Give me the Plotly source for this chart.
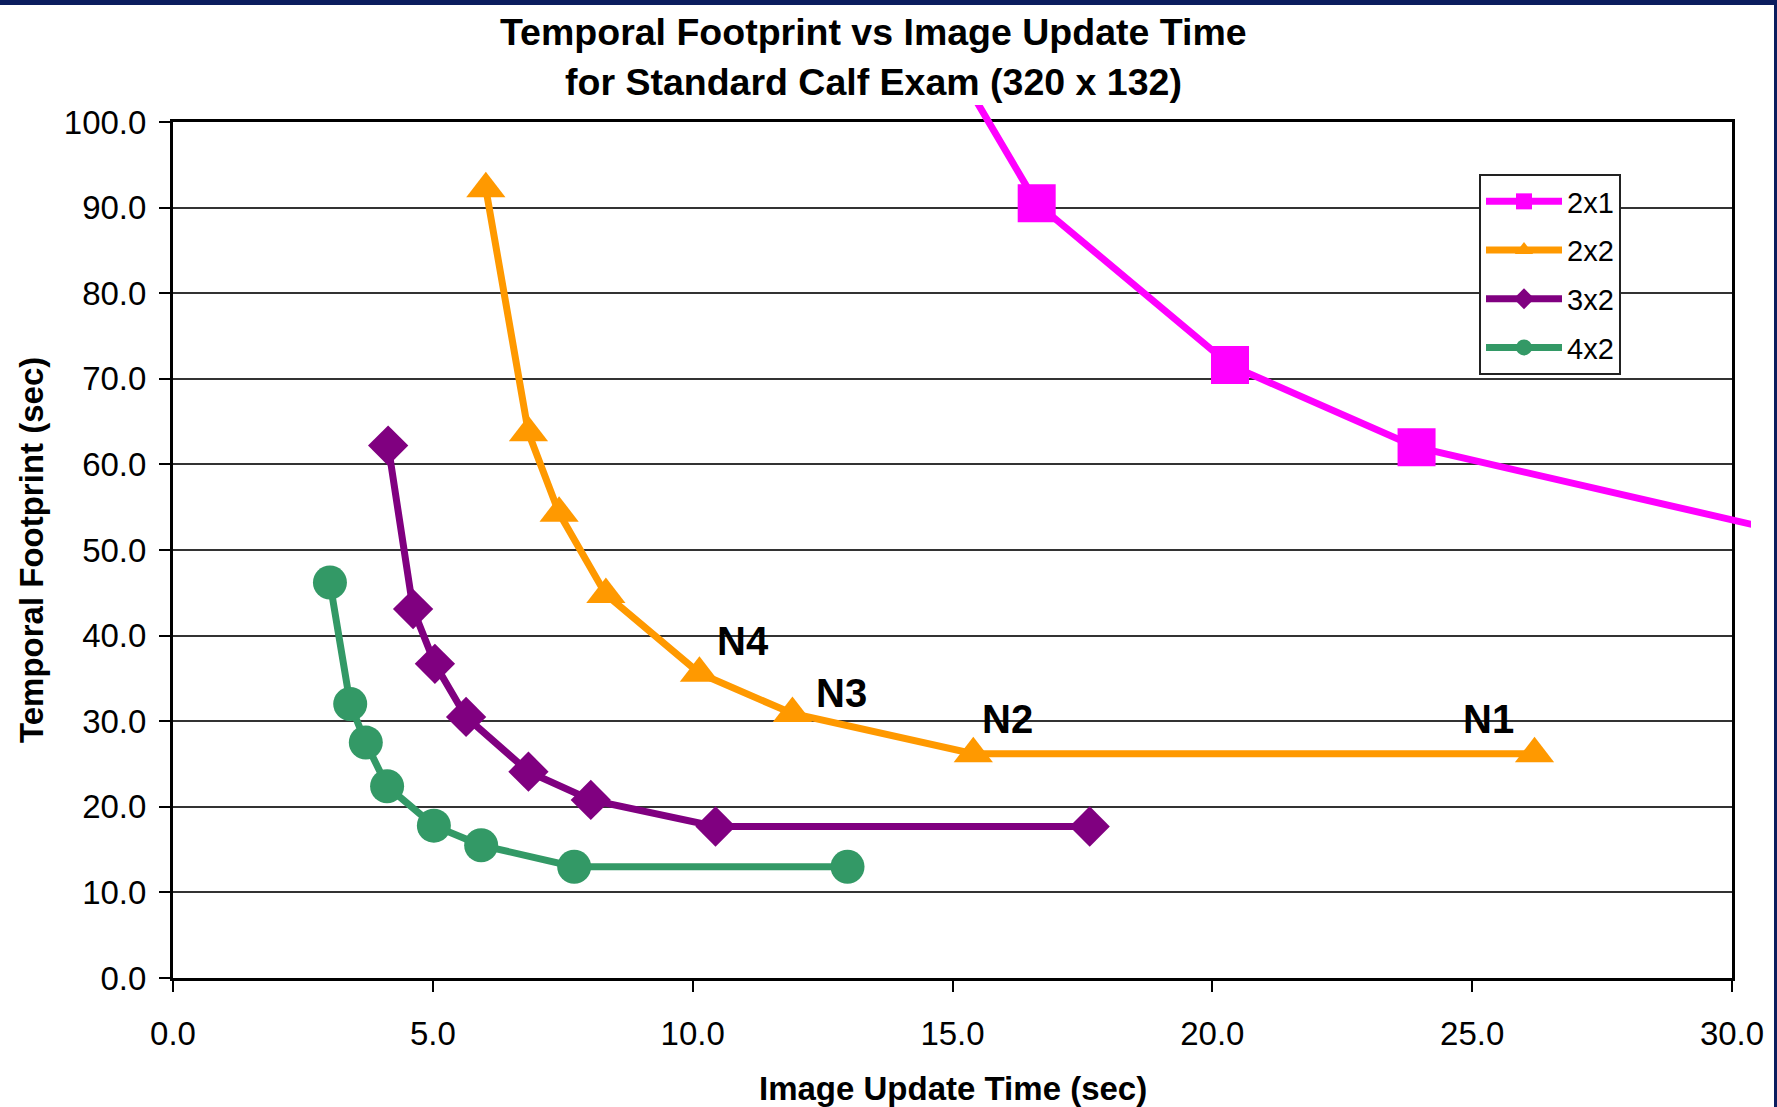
import plotly.graph_objects as go

W, H = 1777, 1107
# plot-area frame, in pixels from the top-left corner
PL, PR, PT, PB = 173, 1732, 122, 978
# the 2x1 line is allowed to run a little past the frame (right and top)
SPILL_R, SPILL_T = 19, 17

X_MAX, Y_MAX = 30.0, 100.0
x_ticks = [0, 5, 10, 15, 20, 25, 30]
y_ticks = [0, 10, 20, 30, 40, 50, 60, 70, 80, 90, 100]

series_names = ["2x1", "2x2", "3x2", "4x2"]
series_colors = ["#FF00FF", "#FF9900", "#800080", "#339966"]
series_symbols = ["square", "triangle-up", "diamond", "circle"]
series_sizes = [38, 34, 31, 34]

x_2x1 = [14.86, 16.62, 20.34, 23.93, 30.80]
y_2x1 = [108.6, 90.5, 71.6, 62.0, 52.4]
x_2x2 = [6.02, 6.84, 7.43, 8.33, 10.13, 11.92, 15.40, 26.20]
y_2x2 = [92.2, 63.7, 54.3, 44.8, 35.6, 30.9, 26.2, 26.2]
x_3x2 = [4.14, 4.62, 5.04, 5.64, 6.84, 8.04, 10.44, 17.64]
y_3x2 = [62.2, 43.1, 36.7, 30.5, 24.1, 20.8, 17.7, 17.7]
x_4x2 = [3.02, 3.41, 3.71, 4.12, 5.02, 5.93, 7.72, 12.98]
y_4x2 = [46.2, 32.0, 27.5, 22.4, 17.8, 15.5, 13.0, 13.0]

# N-labels on the 2x2 curve: point index and pixel offset of the label
n_labels = ["N4", "N3", "N2", "N1"]
n_index = [4, 5, 6, 7]
n_shift = [(44, 32), (49, 21), (34, 35), (-46, 35)]

title_lines = ["Temporal Footprint vs Image Update Time",
               "for Standard Calf Exam (320 x 132)"]
x_title = "Image Update Time (sec)"
y_title = "Temporal Footprint (sec)"

xs = [x_2x1, x_2x2, x_3x2, x_4x2]
ys = [y_2x1, y_2x2, y_3x2, y_4x2]
# 2x1 runs off the chart, so it is drawn on a slightly larger twin layer
layer_axes = [("x2", "y2"), ("x", "y"), ("x", "y"), ("x", "y")]

FONT = "Liberation Sans, Arial, sans-serif"

dom_x = [PL / W, PR / W]
dom_y = [1 - PB / H, 1 - PT / H]
px_per_x = (PR - PL) / X_MAX
px_per_y = (PB - PT) / Y_MAX
dom_x2 = [PL / W, (PR + SPILL_R) / W]
dom_y2 = [1 - PB / H, 1 - (PT - SPILL_T) / H]
range_x2 = [0, X_MAX + SPILL_R / px_per_x]
range_y2 = [0, Y_MAX + SPILL_T / px_per_y]

fig = go.Figure()
for name, color, sym, size, xv, yv, (xa, ya) in zip(
        series_names, series_colors, series_symbols, series_sizes, xs, ys,
        layer_axes):
    fig.add_trace(go.Scatter(
        x=xv, y=yv, name=name, legendgroup=name, mode="lines+markers",
        line=dict(color=color, width=7),
        marker=dict(symbol=sym, size=size, color=color, line=dict(width=0)),
        xaxis=xa, yaxis=ya, cliponaxis=True,
    ))

annotations = []
for lab, idx, (dx, dy) in zip(n_labels, n_index, n_shift):
    annotations.append(dict(
        x=x_2x2[idx], y=y_2x2[idx], xref="x", yref="y",
        text="<b>%s</b>" % lab, showarrow=False,
        xshift=dx, yshift=dy, xanchor="center", yanchor="middle",
        font=dict(family=FONT, size=40, color="black"),
    ))

for line, ypx in zip(title_lines, [32, 82]):
    annotations.append(dict(
        x=873 / W, y=1 - ypx / H, xref="paper", yref="paper",
        text="<b>%s</b>" % line, showarrow=False,
        xanchor="center", yanchor="middle",
        font=dict(family=FONT, size=37.5, color="black"),
    ))

annotations.append(dict(
    x=(PL + PR) / 2 / W, y=1 - 1088 / H, xref="paper", yref="paper",
    text="<b>%s</b>" % x_title, showarrow=False,
    xanchor="center", yanchor="middle",
    font=dict(family=FONT, size=33, color="black"),
))
annotations.append(dict(
    x=31 / W, y=1 - (PT + PB) / 2 / H, xref="paper", yref="paper",
    text="<b>%s</b>" % y_title, showarrow=False, textangle=-90,
    xanchor="center", yanchor="middle",
    font=dict(family=FONT, size=33, color="black"),
))

shapes = [
    dict(type="rect", xref="paper", yref="paper", x0=0, x1=1,
         y0=1 - 5 / H, y1=1, fillcolor="#0b1d5e", line=dict(width=0), layer="above"),
    dict(type="rect", xref="paper", yref="paper", x0=1 - 3 / W, x1=1,
         y0=0, y1=1, fillcolor="#0b1d5e", line=dict(width=0), layer="above"),
]

fig.update_layout(
    width=W, height=H, autosize=False,
    margin=dict(l=0, r=0, t=0, b=0, pad=0),
    paper_bgcolor="white",
    plot_bgcolor="rgba(0,0,0,0)",
    font=dict(family=FONT, color="black"),
    xaxis=dict(
        domain=dom_x, range=[0, X_MAX], anchor="y",
        tickvals=x_ticks, tickformat=".1f",
        ticks="outside", ticklen=11, tickwidth=2, tickcolor="black",
        ticklabelstandoff=13,
        showline=True, linewidth=3, linecolor="black", mirror=True,
        showgrid=False, zeroline=False, automargin=False,
        tickfont=dict(family=FONT, size=33, color="black"),
    ),
    yaxis=dict(
        domain=dom_y, range=[0, Y_MAX], anchor="x",
        tickvals=y_ticks, tickformat=".1f",
        ticks="outside", ticklen=11, tickwidth=2, tickcolor="black",
        ticklabelstandoff=6,
        showline=True, linewidth=3, linecolor="black", mirror=True,
        showgrid=True, gridcolor="#333333", gridwidth=2, zeroline=False,
        automargin=False,
        tickfont=dict(family=FONT, size=33, color="black"),
    ),
    xaxis2=dict(domain=dom_x2, range=range_x2, anchor="y2", visible=False),
    yaxis2=dict(domain=dom_y2, range=range_y2, anchor="x2", visible=False),
    legend=dict(
        x=1479 / W, y=1 - 174 / H, xanchor="left", yanchor="top",
        bgcolor="white", bordercolor="#222222", borderwidth=2,
        font=dict(family=FONT, size=29, color="black"),
        tracegroupgap=8, itemwidth=76,
    ),
    showlegend=True,
    annotations=annotations,
    shapes=shapes,
)

fig.write_html("out.html", config={"displayModeBar": False})
